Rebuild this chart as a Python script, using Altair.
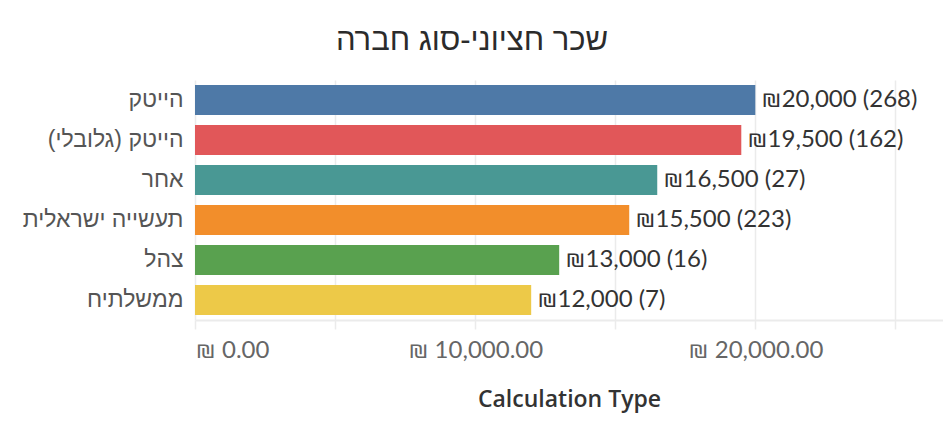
import altair as alt
import pandas as pd

# data
companies = ["הייטק", "הייטק (גלובלי)", "אחר", "תעשייה ישראלית", "צהל", "ממשלתיח"]
median_salary = [20000, 19500, 16500, 15500, 13000, 12000]
responses = [268, 162, 27, 223, 16, 7]
bar_colors = ["#4e79a7", "#e15759", "#499894", "#f28e2b", "#59a14f", "#edc948"]
tick_values = [0, 5000, 10000, 15000, 20000, 25000]

df = pd.DataFrame({"company": companies, "salary": median_salary, "n": responses})

grid_gray = "#ebebeb"

base = alt.Chart(df).encode(
    y=alt.Y("company:N", sort=companies,
            scale=alt.Scale(paddingInner=0.25, paddingOuter=0.125),
            axis=alt.Axis(title=None, domain=False, ticks=False, grid=False,
                          labelPadding=12, labelFont="Liberation Sans",
                          labelFontSize=23, labelColor="#555555", labelLimit=300)),
)

bars = base.mark_bar().encode(
    x=alt.X("salary:Q",
            scale=alt.Scale(domain=[0, 26700], nice=False),
            axis=alt.Axis(values=tick_values,
                          labelExpr="datum.value % 10000 == 0 ? '₪ ' + format(datum.value, ',.2f') : ''",
                          labelFlush=True, labelOverlap=False,
                          grid=True, gridColor=grid_gray, gridWidth=1.5,
                          domainColor=grid_gray, domainWidth=2,
                          tickColor=grid_gray, tickSize=9, tickWidth=1.5,
                          labelFont="Lato", labelFontSize=24, labelColor="#666666",
                          labelPadding=9,
                          title="Calculation Type", titleFont="Open Sans", titleFontSize=23,
                          titleFontWeight=600, titleColor="#333333", titlePadding=26)),
    color=alt.Color("company:N", scale=alt.Scale(domain=companies, range=bar_colors), legend=None),
)

labels = base.mark_text(align="left", baseline="middle", dx=6, font="Lato",
                        fontSize=24, color="#333333").transform_calculate(
    label="'₪' + format(datum.salary, ',') + ' (' + datum.n + ')'"
).encode(
    x="salary:Q",
    text="label:N",
)

chart = (bars + labels).properties(
    width=748,
    height=240,
    autosize="none",
    padding={"left": 187, "top": 72, "right": 0, "bottom": 110},
    title=alt.TitleParams("שכר חציוני-סוג חברה", font="Liberation Sans",
                          fontSize=31, fontWeight="normal", color="#2b2b2b",
                          anchor="middle", dx=-97, dy=3, baseline="alphabetic", offset=2),
).configure_view(stroke=None)

chart.save("out.html", embed_options={"renderer": "svg", "actions": False})
